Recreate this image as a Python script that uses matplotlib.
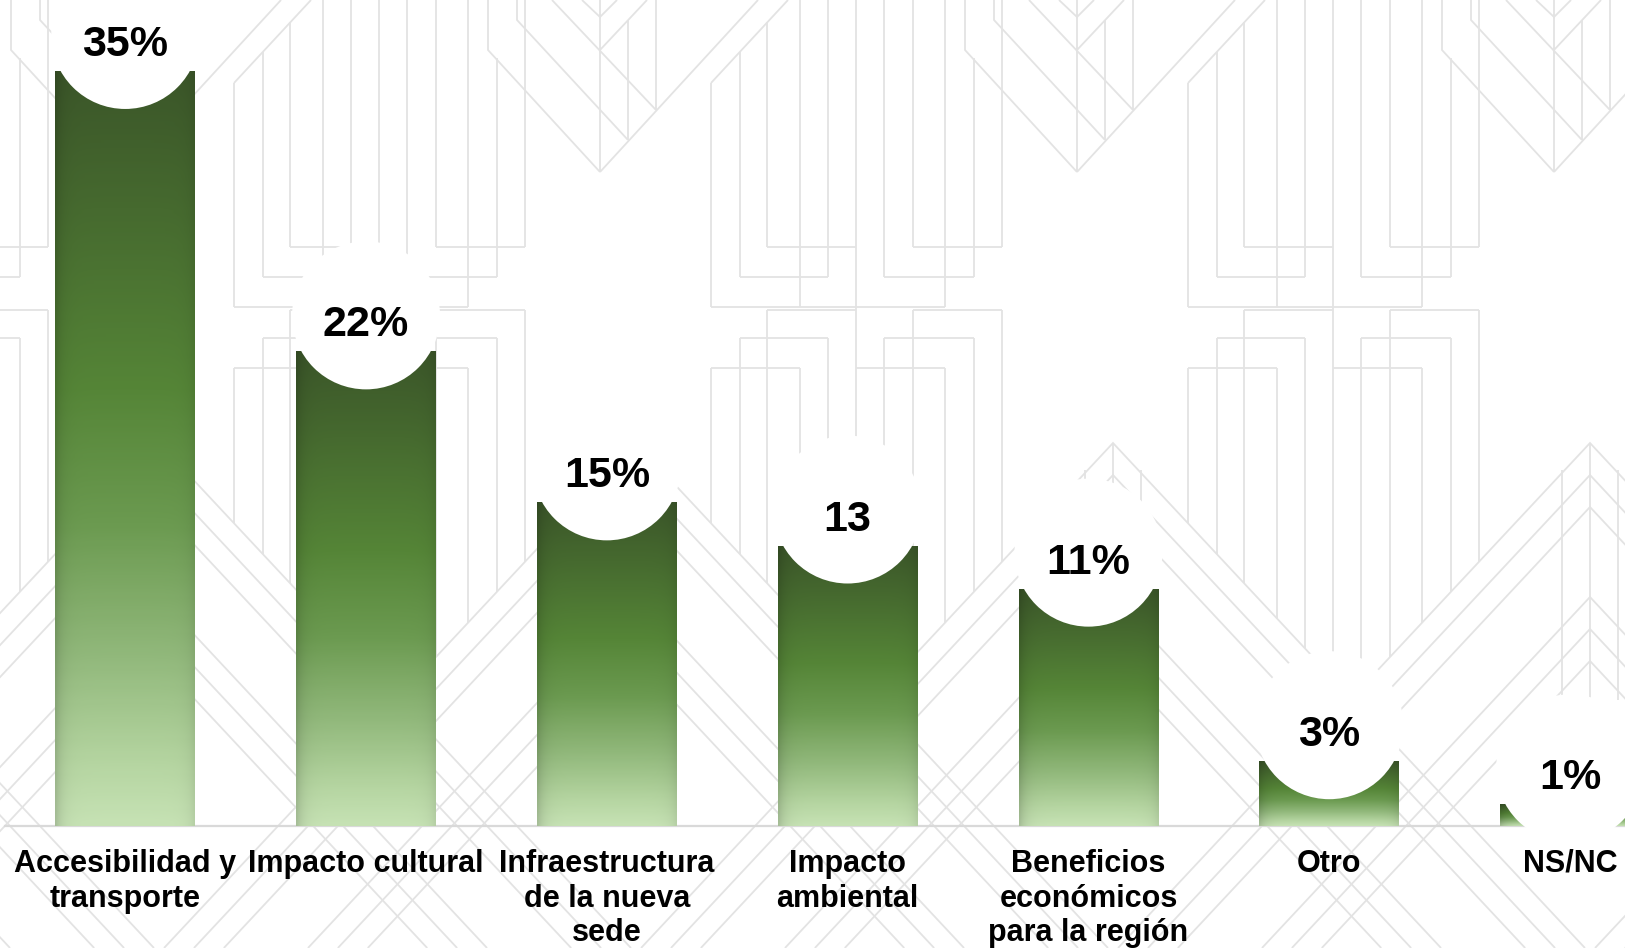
import numpy as np
import matplotlib
matplotlib.use("Agg")
import matplotlib.pyplot as plt
from matplotlib.patches import Circle
from matplotlib.colors import LinearSegmentedColormap
import matplotlib.transforms as mtransforms

# ---------------- data ----------------
categories = ["Accesibilidad y\ntransporte", "Impacto cultural",
              "Infraestructura\nde la nueva\nsede", "Impacto\nambiental",
              "Beneficios\neconómicos\npara la región", "Otro", "NS/NC"]
values = [35, 22, 15, 13, 11, 3, 1]
value_labels = ["35%", "22%", "15%", "13", "11%", "3%", "1%"]

FONT = "Liberation Sans"
W, H = 1625, 948
fig = plt.figure(figsize=(W / 100, H / 100), dpi=100)
fig.patch.set_facecolor("white")

# ---------------- decorative background (pixel coordinates) ----------------
bg = fig.add_axes([0, 0, 1, 1])
bg.set_xlim(0, W)
bg.set_ylim(H, 0)
bg.axis("off")
LC = "#e3e3e3"
LW = 1.3
P = 477
BASE = 913
S = 1.07  # slope of diagonals


def pl(pts, x0):
    bg.plot([x0 + p[0] for p in pts], [p[1] for p in pts], color=LC, lw=LW,
            solid_joinstyle="miter", solid_capstyle="butt")


top_lines = [
    [(164, 0), (164, 172)],
    [(52, 0), (52, 50), (164, 172)],
    [(164, 172), (322, 0)],
    [(81, 0), (81, 20), (192, 140)],
    [(192, 20), (192, 140)],
    [(220, 0), (220, 110)],
    [(116, 0), (220, 110)],
    [(211, 0), (164, 50)],
    [(146, 0), (164, 17), (181, 0)],
    [(275, 83), (352, 0)],
]
top_cols = [(0, 0, 247), (32, 0, 307), (61, 58, 277), (89, 0, 247),
            (275, 83, 307), (304, 52, 277), (331, 22, 247),
            (364, 0, 307), (392, 0, 277), (448, 0, 277)]
top_h = [(247, 0, 89), (247, 331, 420), (277, -29, 61), (277, 304, 392),
         (307, 275, 509)]
low_h = [(310, 0, 89), (310, 331, 420), (338, -29, 61), (338, 304, 392),
         (368, -57, 32), (368, 275, 364)]
low_cols = [(0, 310), (89, 310), (331, 310), (-29, 338), (61, 338),
            (304, 338), (392, 338), (32, 368), (275, 368), (364, 368),
            (420, 0)]
APX = 200
setA = [(APX, 443), (APX, 475), (APX, 507)]
setB = [(APX, 597), (APX, 629), (APX, 661)]

ks = range(-3, 3)
apex_xs = [BASE + k * P + APX for k in ks]


def arm_y(xabs):
    return min(443 + S * abs(xabs - a) for a in apex_xs)


for k in ks:
    x0 = BASE + k * P
    for ln in top_lines:
        pl(ln, x0)
    for cx, y0, y1 in top_cols:
        pl([(cx, y0), (cx, y1)], x0)
    for y, a, b in top_h + low_h:
        pl([(a, y), (b, y)], x0)
    for cx, y0 in low_cols:
        pl([(cx, y0), (cx, min(arm_y(x0 + cx), H))], x0)
    for ax_, ay in setA + setB:
        d = (H - ay) / S
        pl([(ax_ - d, H), (ax_, ay), (ax_ + d, H)], x0)
    pl([(APX, 443), (APX, 700)], x0)
    pl([(APX - 28, 470), (APX - 28, 700)], x0)
    pl([(APX + 28, 470), (APX + 28, 700)], x0)

# ---------------- main chart ----------------
ax = fig.add_axes([0, 0, 1, 1])
ax.set_facecolor("none")
x = np.arange(len(values))
bars = ax.bar(x, values, width=0.58, color="none", edgecolor="none", zorder=3)

stops = [(0.0, "#3b5629"), (0.18, "#466a2f"), (0.42, "#558537"),
         (0.6, "#6b9a50"), (0.78, "#92b97c"), (0.92, "#b5d5a1"),
         (1.0, "#c6e2b4")]
cmap = LinearSegmentedColormap.from_list("g", stops)
for b in bars:
    h = b.get_height()
    t = np.linspace(0, 1, 300)
    rgb = cmap(t)[:, :3][:, None, :]
    u = np.linspace(0, 1, 80)
    shade = 1 - 0.16 * np.exp(-u / 0.05) - 0.08 * np.exp(-(1 - u) / 0.05)
    img = np.clip(rgb * shade[None, :, None], 0, 1)
    im = ax.imshow(img, extent=[b.get_x(), b.get_x() + b.get_width(), 0, h],
                   aspect="auto", zorder=3, interpolation="bilinear")
    im.set_clip_path(b)

ax.axhline(0, xmin=0.003, xmax=1, color="#d9d9d9", lw=1.6, zorder=2)

for xi, v, lbl in zip(x, values, value_labels):
    trans = fig.dpi_scale_trans + mtransforms.ScaledTranslation(xi, v, ax.transData)
    circ = Circle((0, 0.36), 0.74, transform=trans, facecolor="white",
                  edgecolor="none", zorder=4)
    ax.add_patch(circ)
    ax.annotate(lbl, (xi, v), xytext=(0, 26 * 0.72), textcoords="offset points",
                ha="center", va="center", fontsize=31, fontweight="bold",
                family=FONT, color="black", zorder=5)

for xi, cat in zip(x, categories):
    ax.annotate(cat, (xi, 0), xytext=(0, -23 * 0.72), textcoords="offset points",
                ha="center", va="top", fontsize=22, fontweight="bold",
                family=FONT, color="black", linespacing=1.2,
                multialignment="center", zorder=5)

ax.set_xlim(-0.52, 6.228)
ax.set_ylim(-5.66, 38.29)
ax.axis("off")

fig.savefig("out.png", dpi=100, facecolor="white")
